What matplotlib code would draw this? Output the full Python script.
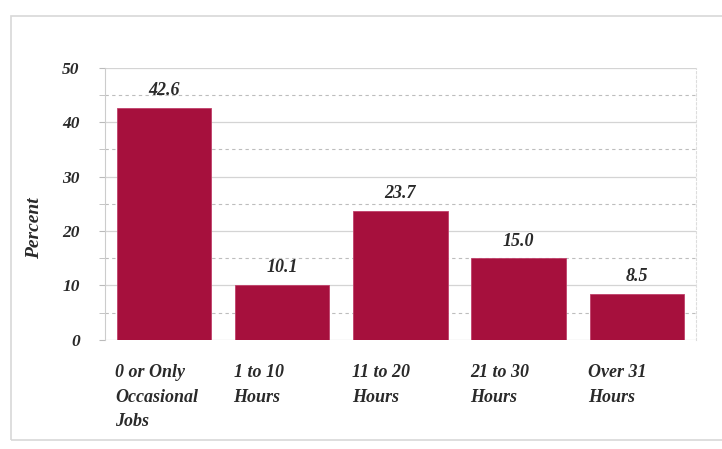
import matplotlib.pyplot as plt
import matplotlib.patches as mpatches
import matplotlib.transforms as mtransforms

categories = ["0 or Only\nOccasional\nJobs", "1 to 10\nHours", "11 to 20\nHours",
              "21 to 30\nHours", "Over 31\nHours"]
values = [42.6, 10.1, 23.7, 15.0, 8.5]
yticks = [0, 10, 20, 30, 40, 50]

font = dict(family="Liberation Serif", style="italic", weight="bold")
bar_color = "#a6103d"
text_color = "#2a2a2a"

fig = plt.figure(figsize=(7.22, 4.49), dpi=100)
ax = fig.add_axes([0.145, 0.243, 0.819, 0.606])

x = list(range(len(values)))
ax.bar(x, values, width=0.8, color=bar_color, edgecolor="#c0406a", linewidth=0.6, zorder=3)

for xi, v in zip(x, values):
    ax.text(xi, v + 1.6, f"{v:.1f}", ha="center", va="bottom", fontsize=13,
            color=text_color, **font)

ax.set_xlim(-0.5, 4.5)
ax.set_ylim(0, 50)
ax.set_yticks(yticks)
ax.set_yticklabels([str(t) for t in yticks], fontsize=12.5, color=text_color, **font)
ax.set_yticks([5, 15, 25, 35, 45], minor=True)
ax.tick_params(axis="y", which="both", length=4, color="#bbbbbb", pad=14)
ax.set_xticks([])

ax.grid(axis="y", which="major", color="#d4d4d4", linewidth=0.9, zorder=0)
ax.grid(axis="y", which="minor", color="#bdbdbd", linewidth=0.8, linestyle=(0, (3, 3)), zorder=0)

for s in ["top", "bottom"]:
    ax.spines[s].set_visible(False)
ax.spines["left"].set_color("#cccccc")
ax.spines["right"].set_color("#dddddd")
ax.spines["right"].set_linestyle((0, (2, 2)))

trans = mtransforms.blended_transform_factory(ax.transData, ax.transAxes)
for xi, lab in zip(x, categories):
    ax.text(xi - 0.41, -0.09, lab, transform=trans, ha="left", va="top",
            fontsize=13, color=text_color, linespacing=1.55, **font)

ax.set_ylabel("Percent", fontsize=14, color=text_color, **font)
ax.yaxis.set_label_coords(-0.105, 0.41)

border = mpatches.Rectangle((0.015, 0.02), 1.2, 0.945, transform=fig.transFigure,
                            fill=False, edgecolor="#d8d8d8", linewidth=1.2)
fig.patches.append(border)

fig.savefig("out.png", dpi=100)
